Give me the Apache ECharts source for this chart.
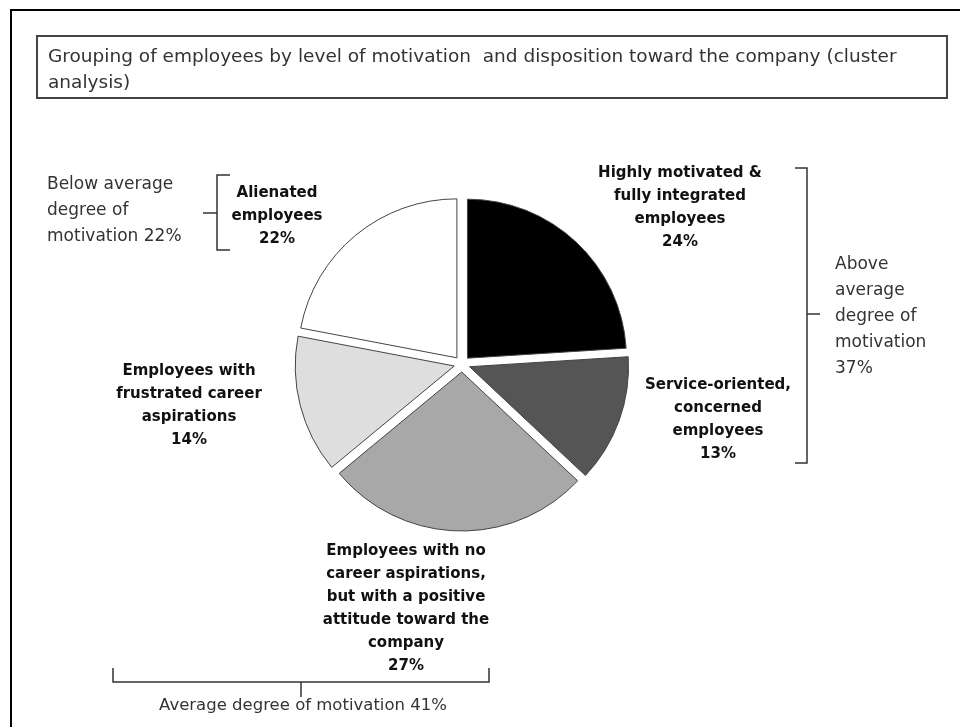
<!DOCTYPE html>
<html><head><meta charset="utf-8">
<script src="https://cdn.jsdelivr.net/npm/echarts@6/dist/echarts.min.js"></script>
<style>html,body{margin:0;padding:0;background:#fff}#c{width:960px;height:727px}</style>
</head><body><div id="c"></div>
<script>
// ---- data ----
const segments = [
  'Highly motivated &\nfully integrated\nemployees',
  'Service-oriented,\nconcerned\nemployees',
  'Employees with no\ncareer aspirations,\nbut with a positive\nattitude toward the\ncompany',
  'Employees with\nfrustrated career\naspirations',
  'Alienated\nemployees'
];
const shares = [24, 13, 27, 14, 22];
const groupLabels = [
  'Below average\ndegree of\nmotivation 22%',
  'Above\naverage\ndegree of\nmotivation\n37%',
  'Average degree of motivation 41%'
];
const titleText = 'Grouping of employees by level of motivation  and disposition toward the company (cluster\nanalysis)';

// ---- styling / layout (kept separate from data) ----
const colors = ['#000000', '#555555', '#a8a8a8', '#dedede', '#ffffff'];
const labelPos = [[680, 208], [718, 420], [406, 609], [189, 406], [277, 216]];
const boldFont = 'DejaVu Sans';
const regFont = 'DejaVu Sans';

const pieData = segments.map((n, i) => ({
  name: n,
  value: shares[i],
  selected: true,
  itemStyle: { color: colors[i], borderColor: '#444', borderWidth: 1 },
  select: { itemStyle: { color: colors[i], borderColor: '#444', borderWidth: 1 } }
}));

function poly(points) {
  return { type: 'polyline', shape: { points: points }, style: { stroke: '#333', lineWidth: 1.5, fill: null }, silent: true };
}
function txt(t, x, y, align, size) {
  return { type: 'text', x: x, y: y, silent: true,
    style: { text: t, fontSize: size || 17, fontFamily: regFont, fill: '#333', lineHeight: 26, align: align, verticalAlign: 'middle' } };
}
const segLabels = segments.map((n, i) => ({
  type: 'text', x: labelPos[i][0], y: labelPos[i][1], silent: true,
  style: { text: n + '\n' + shares[i] + '%', fontSize: 15, fontWeight: 'bold', fontFamily: boldFont,
    fill: '#111', lineHeight: 23, align: 'center', verticalAlign: 'middle' }
}));

const chart = echarts.init(document.getElementById('c'), null, { renderer: 'canvas' });
chart.setOption({
  animation: false,
  backgroundColor: '#fff',
  title: {
    text: titleText, left: 48, top: 44, padding: 0,
    textStyle: { fontSize: 18.5, fontWeight: 'normal', fontFamily: regFont, color: '#333', lineHeight: 26 }
  },
  graphic: [
    { type: 'rect', shape: { x: 11, y: 10, width: 980, height: 760 }, style: { fill: null, stroke: '#000', lineWidth: 2 }, silent: true },
    { type: 'rect', shape: { x: 37, y: 36, width: 910, height: 62 }, style: { fill: null, stroke: '#444', lineWidth: 2 }, silent: true },
    poly([[230, 175], [217, 175], [217, 250], [230, 250]]),
    poly([[203, 213], [217, 213]]),
    poly([[795, 168], [807, 168], [807, 463], [795, 463]]),
    poly([[807, 314], [820, 314]]),
    poly([[113, 668], [113, 682], [489, 682], [489, 668]]),
    poly([[301, 682], [301, 697]]),
    txt(groupLabels[0], 47, 211, 'left', 17),
    txt(groupLabels[1], 835, 317, 'left', 17),
    txt(groupLabels[2], 303, 706, 'center', 16.5)
  ].concat(segLabels),
  series: [{
    type: 'pie',
    center: [462, 364],
    radius: 159,
    startAngle: 90,
    clockwise: true,
    selectedMode: 'multiple',
    selectedOffset: 8,
    avoidLabelOverlap: false,
    emphasis: { disabled: true },
    label: { show: false },
    labelLine: { show: false },
    data: pieData
  }]
});
</script>
</body></html>
